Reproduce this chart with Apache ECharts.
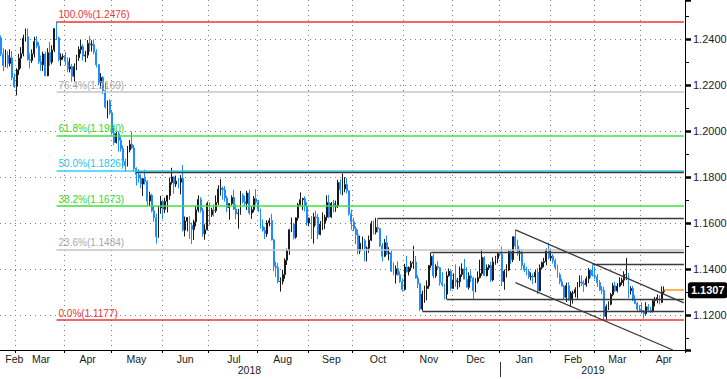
<!DOCTYPE html>
<html><head><meta charset="utf-8">
<script src="https://cdn.jsdelivr.net/npm/echarts@6/dist/echarts.min.js"></script>
<style>html,body{margin:0;padding:0;background:#fff;}#c{width:727px;height:379px;}</style>
</head><body><div id="c"></div>
<script>
// ---- axis calendar (weekday trading days) ----
const axisStart = '2018-02-20';
const axisEnd = '2019-04-26';
const MONTHS = ['Jan','Feb','Mar','Apr','May','Jun','Jul','Aug','Sep','Oct','Nov','Dec'];

// ---- daily bars [open, high, low, close] ----
const feb18 = [
[1.2405,1.2416,1.2325,1.2336],[1.2336,1.2360,1.2260,1.2285],[1.2285,1.2354,1.2278,1.2329],[1.2329,1.2347,1.2273,1.2294],
[1.2294,1.2356,1.2281,1.2318],[1.2318,1.2348,1.2221,1.2232],[1.2232,1.2251,1.2187,1.2194]];
const mar18 = [
[1.2194,1.2273,1.2155,1.2266],[1.2266,1.2336,1.2244,1.2317],[1.2317,1.2365,1.2272,1.2337],[1.2337,1.2419,1.2325,1.2404],
[1.2404,1.2446,1.2389,1.2410],[1.2410,1.2446,1.2306,1.2311],[1.2311,1.2337,1.2272,1.2307],[1.2307,1.2355,1.2296,1.2336],
[1.2336,1.2410,1.2320,1.2389],[1.2389,1.2413,1.2360,1.2370],[1.2370,1.2386,1.2292,1.2302],[1.2302,1.2329,1.2262,1.2288],
[1.2288,1.2345,1.2261,1.2335],[1.2335,1.2345,1.2239,1.2240],[1.2240,1.2360,1.2238,1.2341],[1.2341,1.2388,1.2283,1.2300],
[1.2300,1.2373,1.2290,1.2353],[1.2353,1.2446,1.2343,1.2446],[1.2446,1.2476,1.2395,1.2405],[1.2405,1.2411,1.2303,1.2310],
[1.2310,1.2338,1.2283,1.2322],[1.2322,1.2336,1.2310,1.2324]];
const apr18 = [
[1.2324,1.2345,1.2285,1.2302],[1.2302,1.2321,1.2256,1.2270],[1.2270,1.2319,1.2255,1.2280],[1.2280,1.2292,1.2215,1.2238],
[1.2238,1.2294,1.2215,1.2280],[1.2280,1.2332,1.2265,1.2319],[1.2319,1.2368,1.2305,1.2355],[1.2355,1.2396,1.2336,1.2368],
[1.2368,1.2378,1.2307,1.2326],[1.2326,1.2349,1.2300,1.2330],[1.2330,1.2396,1.2317,1.2381],[1.2381,1.2414,1.2344,1.2374],
[1.2374,1.2395,1.2346,1.2376],[1.2376,1.2398,1.2334,1.2344],[1.2344,1.2356,1.2277,1.2289],[1.2289,1.2290,1.2198,1.2211],
[1.2211,1.2252,1.2183,1.2233],[1.2233,1.2238,1.2161,1.2175],[1.2175,1.2210,1.2097,1.2104],[1.2104,1.2133,1.2055,1.2130],
[1.2130,1.2138,1.2071,1.2079]];
const may18 = [
[1.2079,1.2090,1.1984,1.1992],[1.1992,1.2021,1.1938,1.1950],[1.1950,1.1996,1.1945,1.1988],[1.1988,1.1997,1.1910,1.1960],
[1.1960,1.1975,1.1910,1.1923],[1.1923,1.1937,1.1838,1.1867],[1.1867,1.1880,1.1822,1.1849],[1.1849,1.1935,1.1845,1.1917],
[1.1917,1.1961,1.1907,1.1942],[1.1942,1.1997,1.1922,1.1926],[1.1926,1.1939,1.1821,1.1837],[1.1837,1.1842,1.1763,1.1810],
[1.1810,1.1834,1.1775,1.1795],[1.1795,1.1812,1.1750,1.1769],[1.1769,1.1795,1.1717,1.1792],[1.1792,1.1832,1.1767,1.1780],
[1.1780,1.1786,1.1676,1.1695],[1.1695,1.1736,1.1673,1.1720],[1.1720,1.1727,1.1646,1.1653],[1.1653,1.1676,1.1605,1.1623],
[1.1623,1.1640,1.1510,1.1540],[1.1540,1.1675,1.1535,1.1665],[1.1665,1.1718,1.1640,1.1693]];
const jun18 = [
[1.1693,1.1701,1.1616,1.1659],[1.1659,1.1710,1.1643,1.1694],[1.1694,1.1721,1.1645,1.1719],[1.1719,1.1797,1.1701,1.1776],
[1.1776,1.1840,1.1767,1.1800],[1.1800,1.1803,1.1727,1.1769],[1.1769,1.1806,1.1756,1.1782],[1.1782,1.1796,1.1750,1.1777],
[1.1777,1.1808,1.1724,1.1794],[1.1794,1.1852,1.1563,1.1569],[1.1569,1.1628,1.1541,1.1608],[1.1608,1.1625,1.1563,1.1624],
[1.1624,1.1630,1.1530,1.1589],[1.1589,1.1602,1.1508,1.1571],[1.1571,1.1614,1.1526,1.1605],[1.1605,1.1676,1.1585,1.1656],
[1.1656,1.1720,1.1646,1.1702],[1.1702,1.1712,1.1645,1.1654],[1.1654,1.1666,1.1540,1.1552],[1.1552,1.1594,1.1527,1.1570],
[1.1570,1.1692,1.1568,1.1684]];
const jul18 = [
[1.1684,1.1690,1.1591,1.1635],[1.1635,1.1666,1.1626,1.1656],[1.1656,1.1680,1.1628,1.1653],[1.1653,1.1720,1.1644,1.1689],
[1.1689,1.1764,1.1678,1.1747],[1.1747,1.1791,1.1719,1.1749],[1.1749,1.1758,1.1701,1.1744],[1.1744,1.1760,1.1693,1.1708],
[1.1708,1.1718,1.1647,1.1667],[1.1667,1.1686,1.1614,1.1684],[1.1684,1.1720,1.1677,1.1711],[1.1711,1.1745,1.1656,1.1660],
[1.1660,1.1680,1.1615,1.1640],[1.1640,1.1661,1.1575,1.1642],[1.1642,1.1739,1.1635,1.1720],[1.1720,1.1729,1.1684,1.1692],
[1.1692,1.1718,1.1671,1.1685],[1.1685,1.1740,1.1656,1.1730],[1.1730,1.1745,1.1635,1.1643],[1.1643,1.1671,1.1618,1.1657],
[1.1657,1.1717,1.1646,1.1706],[1.1706,1.1747,1.1680,1.1690]];
const aug18 = [
[1.1690,1.1700,1.1647,1.1660],[1.1660,1.1662,1.1576,1.1584],[1.1584,1.1615,1.1562,1.1568],[1.1568,1.1582,1.1530,1.1553],
[1.1553,1.1611,1.1539,1.1600],[1.1600,1.1621,1.1585,1.1610],[1.1610,1.1640,1.1524,1.1526],[1.1526,1.1531,1.1390,1.1411],
[1.1411,1.1431,1.1365,1.1405],[1.1405,1.1425,1.1337,1.1345],[1.1345,1.1363,1.1301,1.1345],[1.1345,1.1396,1.1332,1.1375],
[1.1375,1.1446,1.1357,1.1438],[1.1438,1.1488,1.1417,1.1480],[1.1480,1.1574,1.1461,1.1570],[1.1570,1.1623,1.1560,1.1595],
[1.1595,1.1601,1.1528,1.1538],[1.1538,1.1624,1.1531,1.1622],[1.1622,1.1687,1.1610,1.1680],[1.1680,1.1733,1.1675,1.1701],
[1.1701,1.1709,1.1655,1.1706],[1.1706,1.1716,1.1650,1.1673],[1.1673,1.1690,1.1588,1.1600]];
const sep18 = [
[1.1600,1.1623,1.1585,1.1621],[1.1621,1.1630,1.1530,1.1583],[1.1583,1.1644,1.1510,1.1626],[1.1626,1.1653,1.1589,1.1624],
[1.1624,1.1640,1.1530,1.1550],[1.1550,1.1608,1.1546,1.1595],[1.1595,1.1646,1.1569,1.1600],[1.1600,1.1636,1.1573,1.1625],
[1.1625,1.1720,1.1610,1.1689],[1.1689,1.1722,1.1622,1.1626],[1.1626,1.1691,1.1622,1.1685],[1.1685,1.1700,1.1645,1.1670],
[1.1670,1.1697,1.1648,1.1675],[1.1675,1.1788,1.1665,1.1776],[1.1776,1.1790,1.1724,1.1745],[1.1745,1.1815,1.1720,1.1748],
[1.1748,1.1799,1.1733,1.1767],[1.1767,1.1795,1.1728,1.1740],[1.1740,1.1742,1.1632,1.1640],[1.1640,1.1658,1.1570,1.1605]];
const oct18 = [
[1.1605,1.1623,1.1564,1.1575],[1.1575,1.1585,1.1507,1.1548],[1.1548,1.1571,1.1463,1.1478],[1.1478,1.1544,1.1465,1.1512],
[1.1512,1.1540,1.1485,1.1524],[1.1524,1.1530,1.1433,1.1490],[1.1490,1.1497,1.1432,1.1490],[1.1490,1.1545,1.1470,1.1525],
[1.1525,1.1609,1.1521,1.1595],[1.1595,1.1610,1.1550,1.1560],[1.1560,1.1622,1.1550,1.1580],[1.1580,1.1621,1.1559,1.1575],
[1.1575,1.1578,1.1496,1.1500],[1.1500,1.1512,1.1432,1.1455],[1.1455,1.1530,1.1451,1.1514],[1.1514,1.1545,1.1460,1.1466],
[1.1466,1.1494,1.1437,1.1470],[1.1470,1.1478,1.1387,1.1390],[1.1390,1.1428,1.1372,1.1375],[1.1375,1.1415,1.1336,1.1401],
[1.1401,1.1433,1.1370,1.1374],[1.1374,1.1389,1.1339,1.1345],[1.1345,1.1358,1.1301,1.1310]];
const nov18 = [
[1.1310,1.1422,1.1306,1.1408],[1.1408,1.1456,1.1384,1.1387],[1.1387,1.1411,1.1371,1.1406],[1.1406,1.1435,1.1392,1.1425],
[1.1425,1.1500,1.1400,1.1430],[1.1430,1.1456,1.1358,1.1360],[1.1360,1.1373,1.1316,1.1335],[1.1335,1.1340,1.1216,1.1225],
[1.1225,1.1305,1.1217,1.1290],[1.1290,1.1327,1.1252,1.1315],[1.1315,1.1350,1.1263,1.1325],[1.1325,1.1417,1.1313,1.1415],
[1.1415,1.1472,1.1403,1.1455],[1.1455,1.1465,1.1358,1.1370],[1.1370,1.1420,1.1361,1.1410],[1.1410,1.1434,1.1395,1.1405],
[1.1405,1.1408,1.1327,1.1340],[1.1340,1.1386,1.1322,1.1330],[1.1330,1.1336,1.1267,1.1290],[1.1290,1.1389,1.1268,1.1370],
[1.1370,1.1402,1.1366,1.1390],[1.1390,1.1395,1.1305,1.1315]];
const dec18 = [
[1.1315,1.1381,1.1314,1.1352],[1.1352,1.1420,1.1322,1.1343],[1.1343,1.1360,1.1311,1.1345],[1.1345,1.1410,1.1320,1.1375],
[1.1375,1.1424,1.1365,1.1400],[1.1400,1.1443,1.1355,1.1355],[1.1355,1.1407,1.1323,1.1320],[1.1320,1.1385,1.1310,1.1370],
[1.1370,1.1394,1.1342,1.1360],[1.1360,1.1365,1.1269,1.1305],[1.1305,1.1359,1.1298,1.1345],[1.1345,1.1389,1.1337,1.1362],
[1.1362,1.1440,1.1358,1.1380],[1.1380,1.1486,1.1370,1.1450],[1.1450,1.1455,1.1370,1.1370],[1.1370,1.1419,1.1367,1.1405],
[1.1405,1.1420,1.1395,1.1415],[1.1415,1.1431,1.1343,1.1352],[1.1352,1.1450,1.1346,1.1430],[1.1430,1.1457,1.1418,1.1445],
[1.1445,1.1472,1.1425,1.1466]];
const jan19 = [
[1.1466,1.1470,1.1455,1.1465],[1.1465,1.1497,1.1325,1.1345],[1.1345,1.1397,1.1309,1.1390],[1.1390,1.1420,1.1363,1.1395],
[1.1395,1.1483,1.1390,1.1475],[1.1475,1.1485,1.1422,1.1440],[1.1440,1.1540,1.1430,1.1540],[1.1540,1.1570,1.1484,1.1500],
[1.1500,1.1527,1.1457,1.1468],[1.1468,1.1485,1.1435,1.1470],[1.1470,1.1485,1.1397,1.1415],[1.1415,1.1425,1.1386,1.1395],
[1.1395,1.1410,1.1372,1.1390],[1.1390,1.1399,1.1357,1.1365],[1.1365,1.1385,1.1350,1.1367],[1.1367,1.1379,1.1334,1.1365],
[1.1365,1.1395,1.1339,1.1385],[1.1385,1.1403,1.1290,1.1305],[1.1305,1.1419,1.1302,1.1405],[1.1405,1.1432,1.1397,1.1428],
[1.1428,1.1448,1.1407,1.1432],[1.1432,1.1489,1.1416,1.1483],[1.1483,1.1514,1.1441,1.1448]];
const feb19 = [
[1.1448,1.1488,1.1434,1.1455],[1.1455,1.1464,1.1423,1.1436],[1.1436,1.1444,1.1397,1.1407],[1.1407,1.1418,1.1362,1.1375],
[1.1375,1.1384,1.1333,1.1344],[1.1344,1.1356,1.1323,1.1325],[1.1325,1.1330,1.1265,1.1276],[1.1276,1.1340,1.1256,1.1327],
[1.1327,1.1342,1.1262,1.1265],[1.1265,1.1303,1.1234,1.1295],[1.1295,1.1305,1.1249,1.1295],[1.1295,1.1320,1.1276,1.1310],
[1.1310,1.1343,1.1270,1.1341],[1.1341,1.1372,1.1320,1.1342],[1.1342,1.1371,1.1325,1.1336],[1.1336,1.1350,1.1300,1.1331],
[1.1331,1.1367,1.1322,1.1357],[1.1357,1.1404,1.1338,1.1394],[1.1394,1.1399,1.1362,1.1372],[1.1372,1.1420,1.1367,1.1371]];
const mar19 = [
[1.1371,1.1409,1.1354,1.1365],[1.1365,1.1378,1.1321,1.1340],[1.1340,1.1351,1.1305,1.1308],[1.1308,1.1325,1.1290,1.1306],
[1.1306,1.1323,1.1177,1.1193],[1.1193,1.1245,1.1176,1.1235],[1.1235,1.1259,1.1221,1.1246],[1.1246,1.1295,1.1241,1.1288],
[1.1288,1.1339,1.1281,1.1327],[1.1327,1.1345,1.1299,1.1305],[1.1305,1.1338,1.1298,1.1325],[1.1325,1.1363,1.1320,1.1340],
[1.1340,1.1362,1.1330,1.1351],[1.1351,1.1390,1.1325,1.1375],[1.1375,1.1448,1.1351,1.1375],[1.1375,1.1383,1.1273,1.1305],
[1.1305,1.1325,1.1288,1.1315],[1.1315,1.1326,1.1259,1.1265],[1.1265,1.1286,1.1247,1.1250],[1.1250,1.1256,1.1212,1.1225],
[1.1225,1.1243,1.1212,1.1219]];
const apr19 = [
[1.1219,1.1255,1.1205,1.1213],[1.1213,1.1221,1.1184,1.1205],[1.1205,1.1255,1.1200,1.1235],[1.1235,1.1247,1.1211,1.1221],
[1.1221,1.1235,1.1208,1.1216],[1.1216,1.1265,1.1210,1.1262],[1.1262,1.1278,1.1237,1.1264],[1.1264,1.1289,1.1250,1.1275],
[1.1275,1.1285,1.1245,1.1254],[1.1254,1.1324,1.1251,1.1300],[1.1300,1.1324,1.1291,1.1307]];

// ---- Fibonacci retracement ----
const fibStart = '2018-03-27';
const fibPct = ['100.0%','76.4%','61.8%','50.0%','38.2%','23.6%','0.0%'];
const fibLevel = [1.2476, 1.2169, 1.1980, 1.1826, 1.1673, 1.1484, 1.1177];

// ---- drawn horizontal support / resistance lines ----
const hLineFrom = ['2018-05-16','2018-10-16','2018-11-19','2019-02-28','2018-11-28','2018-11-13'];
const hLineLevel = [1.1821, 1.1620, 1.1472, 1.1420, 1.1268, 1.1216];

// ---- descending channel ----
const channelUpper = [['2019-01-10', 1.1570], ['2019-04-26', 1.1252]];
const channelLower = [['2019-01-10', 1.1340], ['2019-04-19', 1.1047]];

// ---- value axis range / ticks ----
const yMin = 1.1047, yMax = 1.2570, yLabelStep = 0.02;

// ================= build =================
function weekdays(s, e) {
  const out = []; let d = new Date(s + 'T00:00:00Z'); const end = new Date(e + 'T00:00:00Z');
  while (d <= end) { const w = d.getUTCDay(); if (w !== 0 && w !== 6) out.push(d.toISOString().slice(0, 10)); d = new Date(d.getTime() + 86400000); }
  return out;
}
const categories = weekdays(axisStart, axisEnd);
const bars = [].concat(feb18, mar18, apr18, may18, jun18, jul18, aug18, sep18, oct18, nov18, dec18, jan19, feb19, mar19, apr19);
const candleData = bars.map(b => [b[0], b[3], b[2], b[1]]);
const lastIdx = bars.length - 1;
const lastClose = bars[lastIdx][3];

const monthStart = new Set(), monthLabel = new Set(), yearLabel = new Set();
let yearStartIdx = -1;
(function () {
  const mr = {}, yr = {};
  categories.forEach((c, i) => {
    const m = c.slice(0, 7), y = c.slice(0, 4);
    if (i > 0 && m !== categories[i - 1].slice(0, 7)) monthStart.add(i);
    if (i > 0 && y !== categories[i - 1].slice(0, 4)) yearStartIdx = i;
    (mr[m] = mr[m] || [i, i])[1] = i;
    (yr[y] = yr[y] || [i, i])[1] = i;
  });
  Object.values(mr).forEach(r => monthLabel.add(r[0] === 0 ? r[1] : Math.round((r[0] + r[1]) / 2)));
  Object.values(yr).forEach(r => yearLabel.add(Math.round((r[0] + r[1]) / 2)));
})();

const FONT = 'Liberation Sans';
const fibColors = ['#ee3636', '#c4c4c4', '#3fe03f', '#2dd0f2', '#3fe03f', '#c4c4c4', '#ee3636'];
const fibTextColors = ['#ee3636', '#a8a8a8', '#33d633', '#22c8f0', '#33d633', '#a8a8a8', '#ee3636'];
const lastCat = categories[categories.length - 1];

const fibLines = fibLevel.map((lv, k) => [
  { coord: [fibStart, lv], lineStyle: { color: fibColors[k], width: 1.6, type: 'solid' },
    label: { show: true, position: 'insideStartTop', formatter: fibPct[k] + '(' + lv.toFixed(4) + ')',
      color: fibTextColors[k], fontSize: 10, fontFamily: FONT, distance: 2 } },
  { coord: [lastCat, lv] }
]);

const darkStyle = { color: '#3a3a3a', width: 1.3, type: 'solid' };
const trendLines = hLineLevel.map((lv, k) => [
  { coord: [hLineFrom[k], lv], lineStyle: darkStyle }, { coord: [lastCat, lv] }
]).concat([
  [{ coord: channelUpper[0], lineStyle: darkStyle }, { coord: channelUpper[1] }],
  [{ coord: channelLower[0], lineStyle: darkStyle }, { coord: channelLower[1] }]
]);

const isMajor = v => Math.abs(v / yLabelStep - Math.round(v / yLabelStep)) < 1e-6;
const dotted = { color: '#7c7c7c', width: 1, type: [1, 4] };

const chart = echarts.init(document.getElementById('c'), null, { renderer: 'svg' });
chart.setOption({
  animation: false,
  backgroundColor: '#ffffff',
  textStyle: { fontFamily: FONT },
  grid: { left: 0, right: 42, top: 0, bottom: 29, containLabel: false, outerBoundsMode: 'none' },
  xAxis: [{
    type: 'category', data: categories, boundaryGap: true,
    axisLine: { show: true, lineStyle: { color: '#000', width: 1 } },
    axisTick: { show: true, interval: i => monthStart.has(i), length: 3, lineStyle: { color: '#000' } },
    splitLine: { show: true, interval: i => monthStart.has(i), lineStyle: dotted },
    axisLabel: { interval: i => monthLabel.has(i), formatter: v => MONTHS[+v.slice(5, 7) - 1],
      margin: 3, fontSize: 10.5, color: '#1a1a1a', fontFamily: FONT }
  }, {
    type: 'category', data: categories, position: 'bottom', offset: 12, boundaryGap: true,
    axisLine: { show: false },
    axisTick: { show: true, alignWithLabel: true, interval: i => i === yearStartIdx, length: 15, lineStyle: { color: '#333' } },
    splitLine: { show: false },
    axisLabel: { interval: i => yearLabel.has(i), formatter: v => v.slice(0, 4), margin: 2, fontSize: 10.5, color: '#1a1a1a', fontFamily: FONT }
  }],
  yAxis: [{
    type: 'value', position: 'right', min: yMin, max: yMax, splitNumber: 8,
    axisLine: { show: true, lineStyle: { color: '#000', width: 1 } },
    axisTick: { show: true, length: 6, lineStyle: { color: '#000', width: 2.5 } },
    axisLabel: { margin: 8, formatter: v => isMajor(v) ? v.toFixed(4) : '', color: '#1c1c2a', fontSize: 11, fontFamily: FONT },
    splitLine: { show: true, showMinLine: false, showMaxLine: false, lineStyle: dotted }
  }, {
    type: 'value', position: 'right', min: yMin, max: yMax, splitNumber: 15,
    axisLine: { show: false }, axisLabel: { show: false }, splitLine: { show: false },
    axisTick: { show: true, length: 4, lineStyle: { color: '#000', width: 1 } }
  }],
  series: [{
    type: 'line', data: [], z: 1, silent: true,
    markLine: { symbol: ['none', 'none'], silent: true, animation: false, data: fibLines }
  }, {
    type: 'candlestick', data: candleData, z: 2, barWidth: 1.4,
    itemStyle: { color: '#858585', color0: '#1e8cff', borderColor: '#1a1a1a', borderColor0: '#1e8cff', borderWidth: 1 }
  }, {
    type: 'line', data: [], z: 3, silent: true,
    markLine: { symbol: ['none', 'none'], silent: true, animation: false, label: { show: false }, data: trendLines }
  }, {
    type: 'line', data: [], z: 4, silent: true,
    markLine: { symbol: ['none', 'none'], silent: true, animation: false, data: [[
      { coord: [categories[lastIdx], lastClose], lineStyle: { color: '#ff9a1a', width: 1.5, type: 'solid' },
        label: { show: true, position: 'end', distance: 4, formatter: lastClose.toFixed(4), color: '#fff',
          backgroundColor: '#000', borderRadius: 3, padding: [3, 3, 2, 3], fontSize: 11, fontWeight: 'bold', fontFamily: FONT } },
      { coord: [lastCat, lastClose] }
    ]] }
  }]
});
</script></body></html>
